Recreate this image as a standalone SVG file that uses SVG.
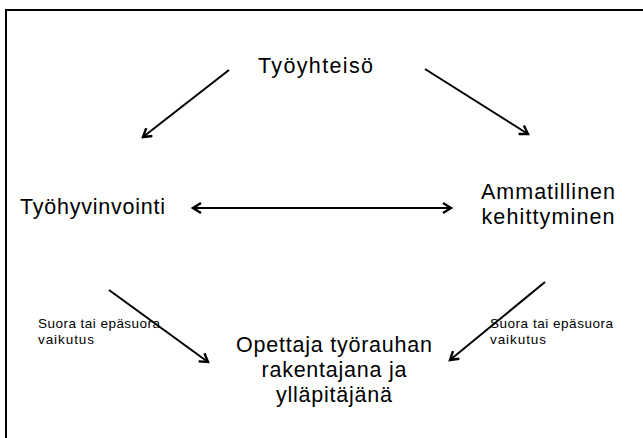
<svg xmlns="http://www.w3.org/2000/svg" width="643" height="438" viewBox="0 0 643 438">
<style>
text{font-family:"Liberation Sans",Arial,sans-serif;fill:#000}
.n{font-size:21.5px}
.b{font-size:21.5px}
.s{font-size:13.5px}
.c{stroke:#000;stroke-width:2;fill:none}
</style>
<defs>
<marker id="ah" markerWidth="12" markerHeight="12" refX="9" refY="6" orient="auto" markerUnits="userSpaceOnUse">
<path d="M1,1 L9,6 L1,11" fill="none" stroke="#000" stroke-width="2.4"/>
</marker>
<marker id="as" markerWidth="12" markerHeight="12" refX="3" refY="6" orient="auto" markerUnits="userSpaceOnUse">
<path d="M11,1 L3,6 L11,11" fill="none" stroke="#000" stroke-width="2.4"/>
</marker>
</defs>
<rect x="0" y="0" width="643" height="438" fill="#fff"/>
<rect x="6" y="10" width="660" height="450" fill="none" stroke="#000" stroke-width="2"/>
<g id="connectors">
<line class="c" x1="229" y1="70" x2="143" y2="137" marker-end="url(#ah)"/>
<line class="c" x1="425" y1="69" x2="528" y2="134" marker-end="url(#ah)"/>
<line class="c" x1="193" y1="208" x2="451" y2="208" marker-start="url(#as)" marker-end="url(#ah)"/>
<line class="c" x1="109" y1="290" x2="208" y2="362" marker-end="url(#ah)"/>
<line class="c" x1="545" y1="282" x2="450" y2="360" marker-end="url(#ah)"/>
</g>
<g id="tyoyhteiso"><text class="n" x="315.5" y="73" text-anchor="middle" textLength="115">Työyhteisö</text></g>
<g id="tyohyvinvointi"><text class="n" x="20" y="214" textLength="145">Työhyvinvointi</text></g>
<g id="ammatillinen"><text class="n" x="548" y="199" text-anchor="middle" textLength="134">Ammatillinen</text><text class="n" x="548" y="224" text-anchor="middle" textLength="133">kehittyminen</text></g>
<g id="opettaja"><text class="b" x="334" y="352" text-anchor="middle" textLength="196">Opettaja työrauhan</text><text class="b" x="334" y="377" text-anchor="middle" textLength="145">rakentajana ja</text><text class="b" x="334" y="402" text-anchor="middle" textLength="116">ylläpitäjänä</text></g>
<g id="label-left"><text class="s" x="38" y="328" textLength="122">Suora tai epäsuora</text><text class="s" x="38" y="344" textLength="56">vaikutus</text></g>
<g id="label-right"><text class="s" x="490" y="328" textLength="123">Suora tai epäsuora</text><text class="s" x="490" y="344" textLength="56">vaikutus</text></g>
</svg>
